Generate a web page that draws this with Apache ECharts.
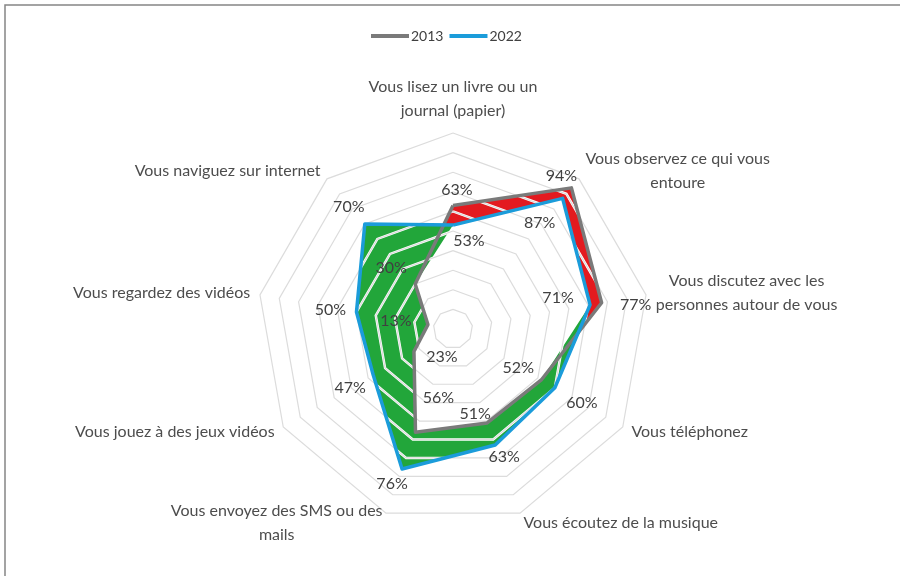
<!DOCTYPE html>
<html lang="fr">
<head>
<meta charset="utf-8">
<title>Radar 2013 / 2022</title>
<script src="https://cdn.jsdelivr.net/npm/echarts@6/dist/echarts.min.js"></script>
<style>
  html, body { margin: 0; padding: 0; background: #fff; }
  #main { width: 900px; height: 576px; }
</style>
</head>
<body>
<div id="main"></div>
<script>
// données (ordre horaire depuis le haut)
var categories = [
  'Vous lisez un livre ou un\njournal (papier)',
  'Vous observez ce qui vous\nentoure',
  'Vous discutez avec les\npersonnes autour de vous',
  'Vous téléphonez',
  'Vous écoutez de la musique',
  'Vous envoyez des SMS ou des\nmails',
  'Vous jouez à des jeux vidéos',
  'Vous regardez des vidéos',
  'Vous naviguez sur internet'
];
var years = ['2013', '2022'];
var values2013 = [63, 94, 77, 52, 51, 56, 23, 13, 30];
var values2022 = [53, 87, 71, 60, 63, 76, 47, 50, 70];

// décalage des étiquettes (px) par axe
var labelOffsets = [
  [[4, -16], [-10, -12], [34, 2], [-23, -12], [-12, -9], [23, -34], [28, 5], [-32, -4], [-24, -16]],
  [[16, 16], [-23, 24], [-32, -7], [27, 15], [9, 12], [-10, 15], [-23, 13], [-26, -2], [-16, -17]]
];

var FONT = 'Lato';
var FS = 16;
var grey = '#7a7a7a', blue = '#1b9cda', green = '#22a63a', red = '#e31a1f';

// echarts dispose les axes dans le sens anti-horaire : on inverse
var order = [0, 8, 7, 6, 5, 4, 3, 2, 1];
function toRadar(arr) { return order.map(function (i) { return arr[i]; }); }

var indicator = toRadar(categories).map(function (n) { return { name: n, max: 100 }; });
var minValues = values2013.map(function (v, i) { return Math.min(v, values2022[i]); });

var radarBase = {
  indicator: indicator,
  center: [453, 329],
  radius: 196,
  startAngle: 90,
  splitNumber: 10,
  shape: 'polygon',
  axisLine: { show: false },
  axisTick: { show: false },
  axisLabel: { show: false },
  splitArea: { show: false }
};

var myChart = echarts.init(document.getElementById('main'));

function fillSeries(values, color, z) {
  return {
    type: 'radar',
    radarIndex: 0,
    z: z,
    silent: true,
    symbol: 'none',
    lineStyle: { width: 0, opacity: 0 },
    areaStyle: { color: color, opacity: 1 },
    data: [{ value: toRadar(values) }]
  };
}

function lineSeries(name, values, color, si) {
  return {
    name: name,
    type: 'radar',
    radarIndex: 0,
    z: 5,
    symbol: 'circle',
    symbolSize: 0.01,
    itemStyle: { color: color, borderWidth: 0 },
    lineStyle: { color: color, width: 3.5 },
    label: {
      show: true,
      position: 'inside',
      formatter: function (p) { return p.value + '%'; },
      color: '#404040',
      fontSize: FS,
      fontFamily: FONT
    },
    labelLayout: function (p) {
      var vals = si === 0 ? values2013 : values2022;
      var idx = vals.indexOf(parseInt(p.text, 10));
      var off = labelOffsets[si][idx] || [0, 0];
      return { dx: off[0], dy: off[1] };
    },
    data: [{ name: name, value: toRadar(values) }]
  };
}

myChart.setOption({
  backgroundColor: '#ffffff',
  animation: false,
  legend: {
    data: years,
    left: 366,
    top: 24,
    icon: 'rect',
    itemWidth: 38,
    itemHeight: 4,
    itemGap: 6,
    textStyle: { color: '#404040', fontSize: 14, fontFamily: FONT, padding: [0, 0, 0, -3] }
  },
  radar: [
    Object.assign({}, radarBase, {
      z: 4,
      splitLine: { lineStyle: { color: '#dcdcdc', width: 1.2 } },
      axisNameGap: 10,
      nameGap: 10,
      axisName: {
        color: '#4d4d4d',
        fontSize: FS,
        fontFamily: FONT,
        formatter: function (name) {
          return name.split('\n').map(function (l) { return '{c|' + l + '}'; }).join('\n');
        },
        rich: {
          c: { align: 'center', color: '#4d4d4d', fontSize: FS, fontFamily: FONT, lineHeight: 24 }
        }
      }
    }),
    Object.assign({}, radarBase, {
      z: 2.5,
      splitLine: { lineStyle: { color: '#ffffff', width: 2.5 } },
      axisName: { show: false }
    })
  ],
  graphic: [{
    type: 'rect',
    silent: true,
    shape: { x: 5, y: 5, width: 1000, height: 1000 },
    style: { fill: 'none', stroke: '#858585', lineWidth: 1.5 }
  }],
  series: [
    fillSeries(values2013, red, 1),
    fillSeries(values2022, green, 2),
    fillSeries(minValues, '#ffffff', 3),
    lineSeries(years[0], values2013, grey, 0),
    lineSeries(years[1], values2022, blue, 1)
  ]
});
</script>
</body>
</html>
